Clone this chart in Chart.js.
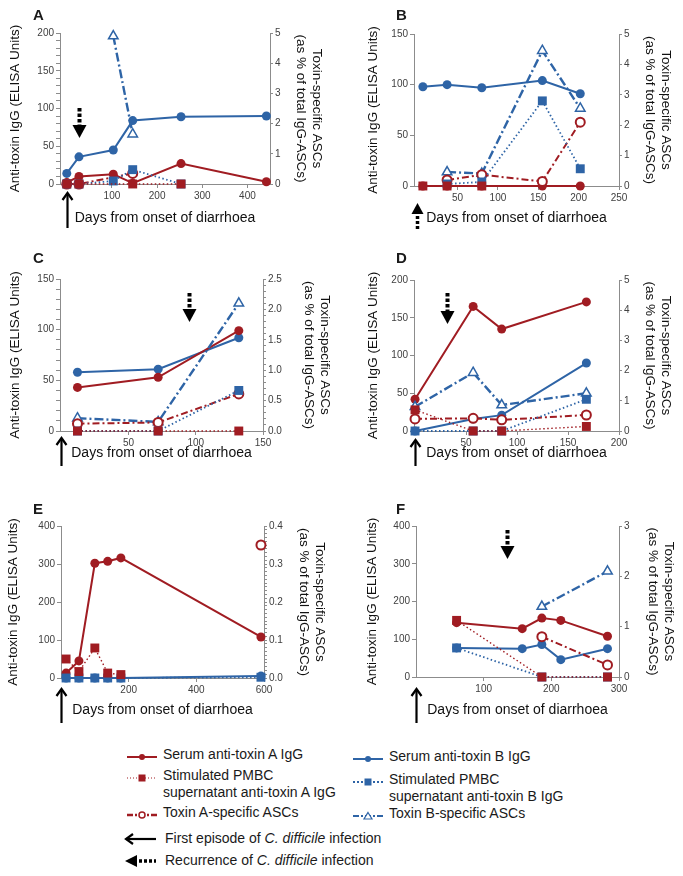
<!DOCTYPE html>
<html>
<head>
<meta charset="utf-8">
<script src="https://cdn.jsdelivr.net/npm/chart.js@4.4.1/dist/chart.umd.min.js"></script>
<style>
  body { margin: 0; background: #fff; width: 683px; height: 876px; position: relative; overflow: hidden;
         font-family: "Liberation Sans", Arial, sans-serif; color: #1a1a1a; }
  canvas { position: absolute; }
  .letter { position: absolute; font-weight: bold; font-size: 15px; line-height: 15px; }
  .lg { position: absolute; font-size: 14px; line-height: 17px; white-space: nowrap; }
  .sw { position: absolute; }
</style>
</head>
<body>
<div id="legend"></div>
<script>
const RED = '#a01c22';
const BLUE = '#2e64a6';
const AX = '#8c8c8c';
const TXT = '#404040';

const panelIds = ['A', 'B', 'C', 'D', 'E', 'F'];

// days after onset of diarrhoea, per panel
const daysA = [0, 27, 103, 146, 253, 442];
const daysB = [7, 37, 80, 155, 202];
const daysC = [12, 72, 132];
const daysD = [0, 57, 85, 168];
const daysE = [15, 53, 100, 138, 177, 591];
const daysF = [60, 157, 186, 214, 283];

// serum anti-toxin A IgG (ELISA units)
const serumToxA_A = [2, 10, 13, 1, 27, 3];
const serumToxA_B = [0, 0, 0, 0, 0];
const serumToxA_C = [43, 53, 99];
const serumToxA_D = [42, 165, 135, 171];
const serumToxA_E = [13, 45, 302, 307, 316, 108];
const serumToxA_F = [144, 128, 156, 150, 108];

// stimulated PBMC supernatant anti-toxin A IgG
const pbmcToxA_A = [0, 0, null, 0, 0, null];
const pbmcToxA_B = [0, 0, 0, null, null];
const pbmcToxA_C = [0, 0, 0];
const pbmcToxA_D = [28, 0, 0, 6];
const pbmcToxA_E = [50, 17, 79, 13, 9, null];
const pbmcToxA_F = [150, null, 0, null, 0];

// toxin A-specific ASCs (% of total IgG-ASCs)
const ascToxA_A = [0, 0, null, 0.35, null, null];
const ascToxA_B = [null, 0.2, 0.37, 0.15, 2.1];
const ascToxA_C = [0.12, 0.14, 0.61];
const ascToxA_D = [0.4, 0.42, 0.37, 0.53];
const ascToxA_E = [null, null, null, null, null, 0.35];
const ascToxA_F = [null, null, 0.8, null, 0.24];

// serum anti-toxin B IgG
const serumToxB_A = [14, 36, 45, 84, 89, 90];
const serumToxB_B = [98, 100, 97, 104, 91];
const serumToxB_C = [58, 61, 92];
const serumToxB_D = [0, 16, 21, 90];
const serumToxB_E = [0, 0, 0, 0, 0, 5];
const serumToxB_F = [77, 75, 86, 46, 75];

// stimulated PBMC supernatant anti-toxin B IgG
const pbmcToxB_A = [0, 0, 4, 19, 0, null];
const pbmcToxB_B = [null, 2, 4, 84, 17];
const pbmcToxB_C = [0, 0, 40];
const pbmcToxB_D = [0, 0, 0, 42];
const pbmcToxB_E = [0, 0, 0, 0, 0, 2];
const pbmcToxB_F = [77, null, 0, null, 0];

// toxin B-specific ASCs
const ascToxB_A = [null, null, 4.9, 1.65, null, null];
const ascToxB_B = [null, 0.46, 0.41, 4.45, 2.55];
const ascToxB_C = [0.21, 0.15, 2.1];
const ascToxB_D = [0.8, 1.93, 0.86, 1.25];
const ascToxB_E = [null, null, null, null, null, null];
const ascToxB_F = [null, null, 1.4, null, 2.1];

// tick labels
const xTicks = [[100, 200, 300, 400], [50, 100, 150, 200, 250], [50, 100, 150], [50, 100, 150, 200], [200, 400, 600], [100, 200, 300]];
const leftTicks = [[0, 50, 100, 150, 200], [0, 50, 100, 150], [0, 50, 100, 150], [0, 50, 100, 150, 200], [0, 100, 200, 300, 400], [0, 100, 200, 300, 400]];
const rightTicks = [[0, 1, 2, 3, 4, 5], [0, 1, 2, 3, 4, 5], [0, 0.5, 1, 1.5, 2, 2.5], [0, 1, 2, 3, 4, 5], [0, 0.1, 0.2, 0.3, 0.4], [0, 1, 2, 3]];

// onset arrow (first episode or recurrence) and later recurrence, in days
const onsetDay = [0, 0, 0, 0, 0, 0];
const onsetIsRecurrence = [false, true, false, false, false, false];
const recurrenceDay = [27, null, 95, 31, null, 135];

const allDays = [daysA, daysB, daysC, daysD, daysE, daysF];
const serumA = [serumToxA_A, serumToxA_B, serumToxA_C, serumToxA_D, serumToxA_E, serumToxA_F];
const pbmcA = [pbmcToxA_A, pbmcToxA_B, pbmcToxA_C, pbmcToxA_D, pbmcToxA_E, pbmcToxA_F];
const ascA = [ascToxA_A, ascToxA_B, ascToxA_C, ascToxA_D, ascToxA_E, ascToxA_F];
const serumB = [serumToxB_A, serumToxB_B, serumToxB_C, serumToxB_D, serumToxB_E, serumToxB_F];
const pbmcB = [pbmcToxB_A, pbmcToxB_B, pbmcToxB_C, pbmcToxB_D, pbmcToxB_E, pbmcToxB_F];
const ascB = [ascToxB_A, ascToxB_B, ascToxB_C, ascToxB_D, ascToxB_E, ascToxB_F];

// layout of each panel (page pixels): canvas box, plot area, axis ranges, title spots
const layout = [
  { box: [0, 0, 341, 236],     plot: [60, 270, 33, 184],  xr: [-15, 450], lmax: 200, rmax: 5,   lMinor: 10, rMinor: 0,    dec: 0, ltx: 15,  rtx: 317, xty: 218, letter: [33, 7],   onset: [193, 228], recur: [108, 138] },
  { box: [341, 0, 342, 236],   plot: [414, 619, 34, 186], xr: [-4, 250],  lmax: 150, rmax: 5,   lMinor: 0,  rMinor: 0,    dec: 0, ltx: 373, rtx: 666, xty: 218, letter: [396, 7],  onset: [203, 229], recur: null },
  { box: [0, 236, 341, 234],   plot: [60, 263, 279, 431], xr: [-1, 150],  lmax: 150, rmax: 2.5, lMinor: 10, rMinor: 0.1,  dec: 1, ltx: 15,  rtx: 325, xty: 453, letter: [33, 250], onset: [438, 466], recur: [293, 322] },
  { box: [341, 236, 342, 234], plot: [414, 619, 280, 431], xr: [-1, 200], lmax: 200, rmax: 5,   lMinor: 0,  rMinor: 0,    dec: 0, ltx: 373, rtx: 666, xty: 453, letter: [396, 250], onset: [440, 466], recur: [293, 324] },
  { box: [0, 470, 341, 272],   plot: [61, 264, 526, 678], xr: [0, 600],   lmax: 400, rmax: 0.4, lMinor: 0,  rMinor: 0.01, dec: 1, ltx: 13,  rtx: 320, xty: 710, letter: [33, 501], onset: [689, 723], recur: null },
  { box: [341, 470, 342, 272], plot: [416, 619, 526, 677], xr: [0, 300],   lmax: 400, rmax: 3,   lMinor: 0,  rMinor: 0,    dec: 0, ltx: 372, rtx: 669, xty: 710, letter: [396, 501], onset: [689, 723], recur: [530, 559] }
];

function stepList(max, step) {
  const out = [];
  const n = Math.round(max / step);
  for (let i = 0; i <= n; i++) out.push(+(i * step).toFixed(4));
  return out;
}

function pts(days, vals) {
  return days.map((d, i) => ({ x: d, y: vals[i] }));
}

function lineSet(days, vals, color, kind, axis) {
  const base = { data: pts(days, vals), yAxisID: axis, borderColor: color, pointBorderColor: color,
                 fill: false, tension: 0, clip: false, spanGaps: true };
  if (kind === 'serum') {
    return Object.assign(base, { borderWidth: 2, pointStyle: 'circle', pointRadius: 4.5, pointBackgroundColor: color, pointBorderWidth: 0 });
  }
  if (kind === 'pbmc') {
    return Object.assign(base, { borderWidth: color === RED ? 1.4 : 1.8, borderDash: [1.5, 2.5], pointStyle: 'rect', pointRadius: 6.3, pointBackgroundColor: color, pointBorderWidth: 0 });
  }
  if (kind === 'ascA') {
    return Object.assign(base, { borderWidth: 2, borderDash: [7, 3, 2, 3], pointStyle: 'circle', pointRadius: 4.5, pointBackgroundColor: '#fff', pointBorderWidth: 2 });
  }
  return Object.assign(base, { borderWidth: 2.4, borderDash: [9, 3, 2, 3], pointStyle: 'triangle', pointRadius: 5.5, pointBackgroundColor: '#fff', pointBorderWidth: 1.5 });
}

function drawArrows(chart, i, L) {
  const ctx = chart.ctx;
  const xs = chart.scales.x;
  const oy = L.box[1];
  ctx.save();
  ctx.fillStyle = '#000';
  ctx.strokeStyle = '#000';
  // onset arrow below the x axis, pointing up
  let x = Math.round(xs.getPixelForValue(onsetDay[i])) + 0.5;
  let tip = L.onset[0] - oy, tail = L.onset[1] - oy;
  if (onsetIsRecurrence[i]) {
    ctx.beginPath();
    ctx.moveTo(x - 6, tip + 11); ctx.lineTo(x + 6, tip + 11); ctx.lineTo(x, tip);
    ctx.closePath(); ctx.fill();
    ctx.lineWidth = 3.5;
    ctx.setLineDash([3, 2]);
    ctx.beginPath(); ctx.moveTo(x, tip + 13); ctx.lineTo(x, tail); ctx.stroke();
    ctx.setLineDash([]);
  } else {
    ctx.lineWidth = 2.2;
    ctx.beginPath(); ctx.moveTo(x, tail); ctx.lineTo(x, tip + 1); ctx.stroke();
    ctx.beginPath(); ctx.moveTo(x - 5, tip + 7); ctx.lineTo(x, tip); ctx.lineTo(x + 5, tip + 7); ctx.stroke();
  }
  // recurrence arrow above the data, pointing down
  if (recurrenceDay[i] != null && L.recur) {
    x = Math.round(xs.getPixelForValue(recurrenceDay[i])) + 0.5;
    const top = L.recur[0] - oy;
    tip = L.recur[1] - oy;
    ctx.lineWidth = 4;
    ctx.setLineDash([3.5, 2]);
    ctx.beginPath(); ctx.moveTo(x, top); ctx.lineTo(x, tip - 13); ctx.stroke();
    ctx.setLineDash([]);
    ctx.beginPath();
    ctx.moveTo(x - 7, tip - 13); ctx.lineTo(x + 7, tip - 13); ctx.lineTo(x, tip);
    ctx.closePath(); ctx.fill();
  }
  ctx.restore();
}

panelIds.forEach((id, i) => {
  const L = layout[i];
  const [bx, by, bw, bh] = L.box;
  const [pl, pr, pt, pb] = L.plot;
  const cv = document.createElement('canvas');
  cv.width = bw; cv.height = bh;
  cv.style.left = bx + 'px'; cv.style.top = by + 'px';
  document.body.appendChild(cv);

  const let_ = document.createElement('div');
  let_.className = 'letter';
  let_.textContent = id;
  let_.style.left = L.letter[0] + 'px'; let_.style.top = L.letter[1] + 'px';
  document.body.appendChild(let_);

  const days = allDays[i];
  const xMaj = xTicks[i], lMaj = leftTicks[i], rMaj = rightTicks[i];
  const lVals = L.lMinor ? stepList(L.lmax, L.lMinor) : lMaj;
  const rVals = L.rMinor ? stepList(L.rmax, L.rMinor) : rMaj;
  const isMaj = (arr, v) => arr.some(m => Math.abs(m - v) < 1e-6);

  const titleLH = 13.5 * 1.2;
  const xTitleLH = 14 * 1.2;
  const xBoxBottom = L.xty + xTitleLH / 2;

  const tickFont = { family: '"Liberation Sans", Arial, sans-serif', size: 10 };
  const titleFont = { family: '"Liberation Sans", Arial, sans-serif', size: 13.5 };

  new Chart(cv.getContext('2d'), {
    type: 'line',
    data: {
      datasets: [
        lineSet(days, pbmcA[i], RED, 'pbmc', 'y'),
        lineSet(days, pbmcB[i], BLUE, 'pbmc', 'y'),
        lineSet(days, ascA[i], RED, 'ascA', 'y2'),
        lineSet(days, ascB[i], BLUE, 'ascB', 'y2'),
        lineSet(days, serumA[i], RED, 'serum', 'y'),
        lineSet(days, serumB[i], BLUE, 'serum', 'y')
      ]
    },
    options: {
      responsive: false,
      animation: false,
      events: [],
      layout: {
        autoPadding: false,
        padding: { left: 0, right: 0, top: pt - by, bottom: (by + bh) - xBoxBottom }
      },
      plugins: { legend: { display: false }, tooltip: { enabled: false } },
      scales: {
        x: {
          type: 'linear', position: 'bottom', min: L.xr[0], max: L.xr[1],
          afterBuildTicks: s => { s.ticks = xMaj.map(v => ({ value: v })); },
          afterFit: s => { s.height = xBoxBottom - pb; },
          ticks: { autoSkip: false, maxRotation: 0, font: tickFont, color: TXT, padding: 2 },
          grid: { drawOnChartArea: false, tickLength: 4, color: AX },
          border: { color: AX },
          title: { display: true, text: 'Days from onset of diarrhoea', color: '#111',
                   font: { family: '"Liberation Sans", Arial, sans-serif', size: 14 }, padding: { top: 0, bottom: 0 } }
        },
        y: {
          type: 'linear', position: 'left', min: 0, max: L.lmax,
          afterBuildTicks: s => { s.ticks = lVals.map(v => ({ value: v })); },
          afterFit: s => { s.width = pl - bx; },
          ticks: { autoSkip: false, font: tickFont, color: TXT, padding: 2,
                   callback: v => isMaj(lMaj, v) ? String(v) : '' },
          grid: { drawOnChartArea: false, tickLength: 4, color: AX },
          border: { color: AX },
          title: { display: true, text: 'Anti-toxin IgG (ELISA Units)', color: '#111', font: titleFont,
                   padding: { top: L.ltx - bx - titleLH / 2, bottom: 0 } }
        },
        y2: {
          type: 'linear', position: 'right', min: 0, max: L.rmax,
          afterBuildTicks: s => { s.ticks = rVals.map(v => ({ value: v })); },
          afterFit: s => { s.width = (bx + bw) - pr; },
          ticks: { autoSkip: false, font: tickFont, color: TXT, padding: 2,
                   callback: v => isMaj(rMaj, v) ? v.toFixed(L.dec) : '' },
          grid: { drawOnChartArea: false, tickLength: 3, color: AX },
          border: { color: AX },
          title: { display: true, text: ['Toxin-specific ASCs', '(as % of total IgG-ASCs)'], color: '#111', font: titleFont,
                   padding: { top: (bx + bw) - L.rtx - titleLH / 2, bottom: 0 } }
        }
      }
    },
    plugins: [{ id: 'arrows', afterDraw: chart => drawArrows(chart, i, L) }]
  });
});

// legend
const legendItems = [
  { x: 127, y: 755, color: RED, kind: 'serum', lines: ['Serum anti-toxin A IgG'] },
  { x: 127, y: 776, color: RED, kind: 'pbmc', lines: ['Stimulated PMBC', 'supernatant anti-toxin A IgG'] },
  { x: 127, y: 813, color: RED, kind: 'ascA', lines: ['Toxin A-specific ASCs'] },
  { x: 353, y: 757, color: BLUE, kind: 'serum', lines: ['Serum anti-toxin B IgG'] },
  { x: 353, y: 780, color: BLUE, kind: 'pbmcB', lines: ['Stimulated PMBC', 'supernatant anti-toxin B IgG'] },
  { x: 353, y: 814, color: BLUE, kind: 'ascB', lines: ['Toxin B-specific ASCs'] }
];

function swatch(kind, c) {
  let s = '<svg width="30" height="12" xmlns="http://www.w3.org/2000/svg">';
  if (kind === 'serum') {
    s += `<line x1="0" y1="6" x2="30" y2="6" stroke="${c}" stroke-width="2"/><circle cx="15" cy="6" r="3" fill="${c}"/>`;
  } else if (kind === 'pbmc') {
    s += `<line x1="0" y1="6" x2="30" y2="6" stroke="${c}" stroke-width="1" stroke-dasharray="1,2"/><rect x="11.5" y="2.5" width="7" height="7" fill="${c}"/>`;
  } else if (kind === 'pbmcB') {
    s += `<line x1="0" y1="6" x2="30" y2="6" stroke="${c}" stroke-width="2" stroke-dasharray="2,2"/><rect x="11.5" y="2.5" width="7" height="7" fill="${c}"/>`;
  } else if (kind === 'ascA') {
    s += `<line x1="0" y1="6" x2="30" y2="6" stroke="${c}" stroke-width="2.5" stroke-dasharray="6,2,2,2"/><circle cx="15" cy="6" r="3" fill="#fff" stroke="${c}" stroke-width="1.5"/>`;
  } else {
    s += `<line x1="0" y1="6" x2="30" y2="6" stroke="${c}" stroke-width="2" stroke-dasharray="6,2,2,2"/><polygon points="15,2.5 19,9 11,9" fill="#fff" stroke="${c}" stroke-width="1.2"/>`;
  }
  return s + '</svg>';
}

const lg = document.getElementById('legend');
legendItems.forEach(it => {
  const sw = document.createElement('div');
  sw.className = 'sw';
  sw.style.left = it.x + 'px'; sw.style.top = (it.y - 6) + 'px';
  sw.innerHTML = swatch(it.kind, it.color);
  lg.appendChild(sw);
  const t = document.createElement('div');
  t.className = 'lg';
  t.style.left = (it.x + 36) + 'px'; t.style.top = (it.y - 9) + 'px';
  t.innerHTML = it.lines.join('<br>');
  lg.appendChild(t);
});

const arrowRows = [
  { y: 839, dotted: false, html: 'First episode of <i>C. difficile</i> infection' },
  { y: 861, dotted: true, html: 'Recurrence of <i>C. difficile</i> infection' }
];
arrowRows.forEach(r => {
  const sw = document.createElement('div');
  sw.className = 'sw';
  sw.style.left = '124px'; sw.style.top = (r.y - 8) + 'px';
  sw.innerHTML = r.dotted
    ? '<svg width="34" height="16"><polygon points="1,8 13,2 13,14" fill="#000"/><line x1="15" y1="8" x2="32" y2="8" stroke="#000" stroke-width="3.5" stroke-dasharray="3,2"/></svg>'
    : '<svg width="34" height="16"><line x1="2" y1="8" x2="32" y2="8" stroke="#000" stroke-width="2.2"/><polyline points="9,3 2,8 9,13" fill="none" stroke="#000" stroke-width="2.2"/></svg>';
  lg.appendChild(sw);
  const t = document.createElement('div');
  t.className = 'lg';
  t.style.left = '165px'; t.style.top = (r.y - 9) + 'px';
  t.innerHTML = r.html;
  lg.appendChild(t);
});
</script>
</body>
</html>
